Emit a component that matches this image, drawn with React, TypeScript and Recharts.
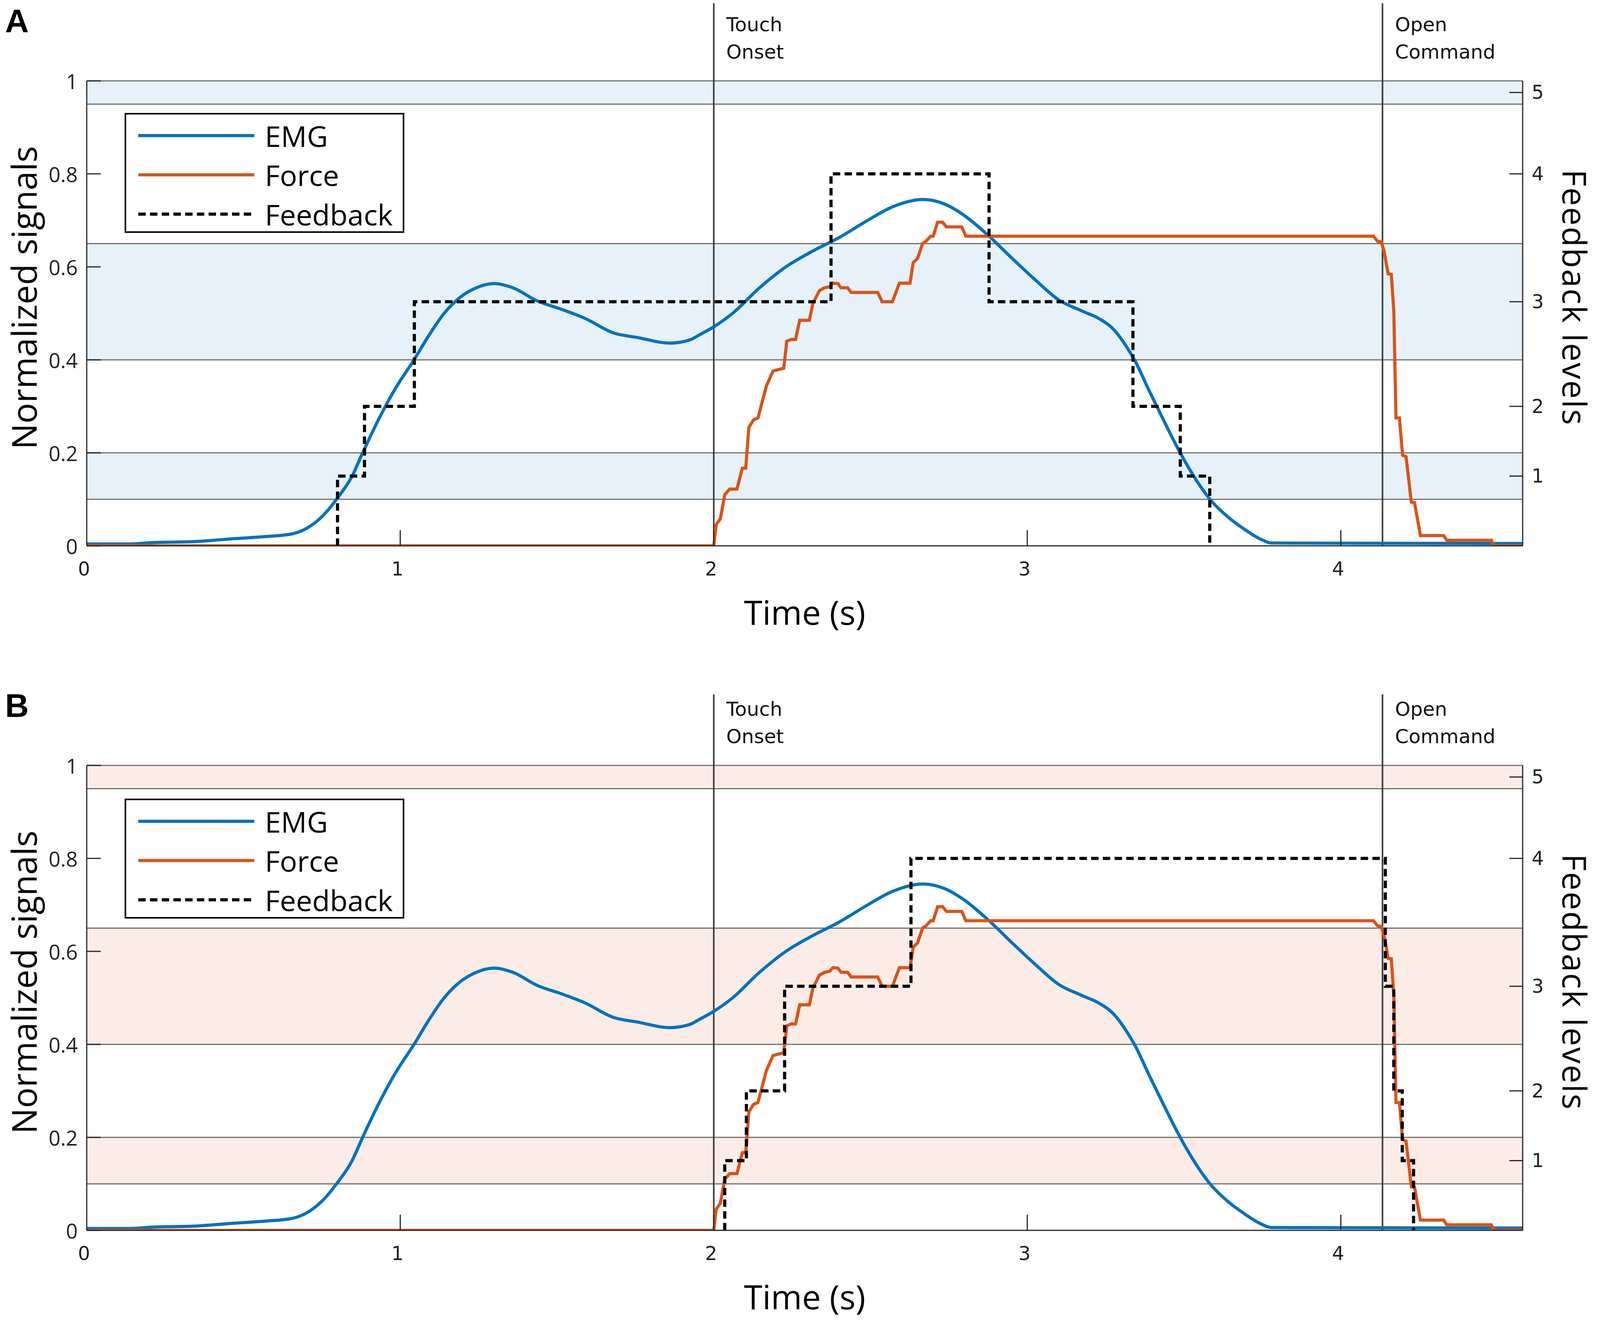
import React from 'react'
import { LineChart, Line, XAxis, YAxis, ReferenceArea, ReferenceLine } from 'recharts'

// EMG trace (normalized), same recording in both panels
const emgTime = [
  0, 0.14, 0.21, 0.34, 0.46, 0.57, 0.65, 0.7, 0.755, 0.8, 0.845, 0.88, 0.934, 0.986, 1.044, 1.089,
  1.14, 1.19, 1.243, 1.3, 1.359, 1.436, 1.513, 1.59, 1.68, 1.757, 1.86, 1.924, 1.955, 2.0, 2.06,
  2.146, 2.23, 2.316, 2.4, 2.486, 2.57, 2.666, 2.74, 2.8, 2.878, 2.952, 3.027, 3.1, 3.175, 3.228,
  3.27, 3.313, 3.345, 3.387, 3.44, 3.483, 3.55, 3.584, 3.635, 3.694, 3.745, 3.78, 4.58,
]
const emgValue = [
  0.004, 0.004, 0.007, 0.009, 0.015, 0.02, 0.025, 0.037, 0.066, 0.103, 0.148, 0.2, 0.276, 0.34, 0.4,
  0.45, 0.5, 0.534, 0.555, 0.564, 0.555, 0.527, 0.509, 0.489, 0.458, 0.448, 0.436, 0.443, 0.454,
  0.471, 0.5, 0.555, 0.6, 0.634, 0.663, 0.698, 0.729, 0.745, 0.734, 0.71, 0.666, 0.618, 0.571, 0.529,
  0.505, 0.489, 0.469, 0.432, 0.396, 0.336, 0.263, 0.206, 0.13, 0.099, 0.065, 0.035, 0.014,
  0.006, 0.005,
]

// grip force (normalized)
const forceTime = [
  0, 2.0, 2.008, 2.021, 2.035, 2.051, 2.074, 2.091, 2.102, 2.112, 2.127, 2.141, 2.168, 2.189, 2.223,
  2.233, 2.247, 2.261, 2.274, 2.305, 2.316, 2.337, 2.353, 2.369, 2.38, 2.396, 2.406, 2.427, 2.438,
  2.523, 2.537, 2.57, 2.592, 2.626, 2.636, 2.65, 2.666, 2.677, 2.692, 2.7, 2.714, 2.73, 2.742, 2.791,
  2.804, 4.104, 4.117, 4.129, 4.138, 4.151, 4.161, 4.169, 4.176, 4.187, 4.197, 4.208, 4.225, 4.235,
  4.254, 4.328, 4.338, 4.48, 4.489, 4.58,
]
const forceValue = [
  0, 0, 0.046, 0.058, 0.11, 0.122, 0.122, 0.167, 0.167, 0.255, 0.271, 0.275, 0.344, 0.376, 0.382,
  0.44, 0.444, 0.444, 0.485, 0.485, 0.521, 0.549, 0.555, 0.557, 0.565, 0.564, 0.555, 0.555, 0.545,
  0.545, 0.525, 0.525, 0.565, 0.565, 0.609, 0.618, 0.65, 0.655, 0.666, 0.666, 0.696, 0.696, 0.686,
  0.686, 0.666, 0.666, 0.655, 0.654, 0.634, 0.585, 0.584, 0.505, 0.275, 0.275, 0.195, 0.192, 0.094,
  0.093, 0.022, 0.022, 0.012, 0.012, 0, 0,
]

// feedback levels: where each level sits on the normalized scale (right axis)
const levelPos = [0, 0.15, 0.3, 0.525, 0.8, 0.975]

// feedback level changes (time, new level)
const fbTimesA = [0.8, 0.886, 1.045, 2.374, 2.878, 3.337, 3.488, 3.582]
const fbLevelsA = [1, 2, 3, 4, 3, 2, 1, 0]
const fbTimesB = [2.035, 2.104, 2.226, 2.629, 4.142, 4.169, 4.196, 4.232]
const fbLevelsB = [1, 2, 3, 4, 3, 2, 1, 0]

const bandRanges = [
  [0.1, 0.2],
  [0.4, 0.65],
  [0.95, 1],
]
const bandEdges = [0.1, 0.2, 0.4, 0.65, 0.95, 1]
const leftTicks = [0, 0.2, 0.4, 0.6, 0.8, 1]
const timeTicks = [0, 1, 2, 3, 4]
const timeMax = 4.58
const eventTimes = [2.0, 4.133]
const eventLabels = [
  ['Touch', 'Onset'],
  ['Open', 'Command'],
]

const emgData = emgTime.map((t, i) => ({ t, v: emgValue[i] }))
const forceData = forceTime.map((t, i) => ({ t, v: forceValue[i] }))
const feedbackData = (times: number[], levels: number[]) => [
  { t: times[0], v: 0 },
  ...times.map((t, i) => ({ t, v: levelPos[levels[i]] })),
]

// the page is 4096 wide, the figure was laid out for 4317
const KX = 4096 / 4317
const sx = (v: number) => Math.round(v * KX)

const W = 4096
const H = 3381
const LEFT_W = sx(234)
const RIGHT_W = sx(209)
const AXIS = '#262626'
const GRID = '#707070'
const EMG = '#0072BD'
const FORCE = '#D95319'
const SANS = "'Open Sans', 'DejaVu Sans', sans-serif"
const DEJAVU = "'DejaVu Sans', sans-serif"
const DASH = '19 11'

const fmtLeft = (v: number) => (v === 0 ? '0' : v === 1 ? '1' : v.toFixed(1))

const LeftTick = (props: any) => {
  const { x, y, payload } = props
  return (
    <g>
      <line x1={x} x2={x + 36} y1={y} y2={y} stroke={AXIS} strokeWidth={3} />
      <text x={x - 23} y={y} textAnchor="end" dominantBaseline="central" fontFamily={SANS} fontSize={53} fill="#222">
        {fmtLeft(payload.value)}
      </text>
    </g>
  )
}

const RightTick = (props: any) => {
  const { x, y, payload } = props
  return (
    <g>
      <line x1={x - 34} x2={x} y1={y} y2={y} stroke={AXIS} strokeWidth={3} />
      <text x={x + 23} y={y} textAnchor="start" dominantBaseline="central" fontFamily={DEJAVU} fontSize={49} fill="#222">
        {levelPos.indexOf(payload.value)}
      </text>
    </g>
  )
}

const BottomTick = (props: any) => {
  const { x, y, payload } = props
  return (
    <g>
      {payload.value > 0 && <line x1={x} x2={x} y1={y} y2={y - 40} stroke={AXIS} strokeWidth={3} />}
      <text x={x - 7} y={y + 76} textAnchor="middle" fontFamily={DEJAVU} fontSize={49} fill="#222">
        {payload.value}
      </text>
    </g>
  )
}

const legendItems = [
  { name: 'EMG', color: EMG, dash: undefined },
  { name: 'Force', color: FORCE, dash: undefined },
  { name: 'Feedback', color: '#000', dash: DASH },
]

function LegendBox({ top }: { top: number }) {
  const w = sx(756)
  return (
    <svg style={{ position: 'absolute', left: sx(336), top }} width={w} height={308}>
      <rect x={2} y={2} width={w - 5} height={303} fill="#fff" stroke="#000" strokeWidth={4} />
      {legendItems.map((it, i) => (
        <g key={it.name}>
          <line x1={sx(37)} x2={sx(350)} y1={58 + i * 100.5} y2={58 + i * 100.5} stroke={it.color} strokeWidth={8} strokeDasharray={it.dash} />
          <text x={sx(378)} y={58 + i * 100.5} dominantBaseline="central" fontFamily={SANS} fontSize={74} fill="#000">
            {it.name}
          </text>
        </g>
      ))}
    </svg>
  )
}

type PanelProps = {
  letter: string
  top: number
  height: number
  marginTop: number
  bandColor: string
  feedback: { t: number; v: number }[]
  lineTop: number
  textBase: number
}

function Panel({ letter, top, height, marginTop, bandColor, feedback, lineTop, textBase }: PanelProps) {
  const plotH = 1190
  const plotMid = marginTop + plotH / 2 - 40
  const leftLabelX = 94
  const rightLabelX = 4000
  return (
    <div style={{ position: 'absolute', left: 0, top }}>
      <LineChart width={W} height={height} margin={{ top: marginTop, right: 0, bottom: 0, left: 0 }}>
        <XAxis
          type="number"
          dataKey="t"
          domain={[0, timeMax]}
          ticks={timeTicks}
          interval={0}
          allowDataOverflow
          height={height - marginTop - plotH}
          tickSize={0}
          tickMargin={0}
          tickLine={false}
          tick={<BottomTick />}
          axisLine={{ stroke: AXIS, strokeWidth: 3 }}
          label={(p: any) => (
            <text x={p.viewBox.x + p.viewBox.width / 2} y={p.viewBox.y + 202} textAnchor="middle" fontFamily={SANS} fontSize={86} fill="#000">
              Time (s)
            </text>
          )}
        />
        <YAxis
          yAxisId="left"
          type="number"
          domain={[0, 1]}
          ticks={leftTicks}
          interval={0}
          allowDataOverflow
          width={LEFT_W}
          tickSize={0}
          tickMargin={0}
          tickLine={false}
          tick={<LeftTick />}
          axisLine={{ stroke: AXIS, strokeWidth: 3 }}
          label={() => (
            <g>
              <text x={13} y={marginTop - 124} fontFamily="'Liberation Sans Narrow', 'Liberation Sans', sans-serif" fontWeight="bold" fontSize={84} fill="#000">
                {letter}
              </text>
              <text
                x={leftLabelX}
                y={plotMid}
                transform={`rotate(-90 ${leftLabelX} ${plotMid})`}
                textAnchor="middle"
                fontFamily={SANS}
                fontSize={88}
                fill="#000"
              >
                Normalized signals
              </text>
            </g>
          )}
        />
        <YAxis
          yAxisId="right"
          orientation="right"
          type="number"
          domain={[0, 1]}
          ticks={levelPos.slice(1)}
          interval={0}
          allowDataOverflow
          width={RIGHT_W}
          tickSize={0}
          tickMargin={0}
          tickLine={false}
          tick={<RightTick />}
          axisLine={{ stroke: AXIS, strokeWidth: 3 }}
          label={() => (
            <text
              x={rightLabelX}
              y={plotMid}
              transform={`rotate(90 ${rightLabelX} ${plotMid})`}
              textAnchor="middle"
              fontFamily={SANS}
              fontSize={84}
              letterSpacing={3}
              fill="#000"
            >
              Feedback levels
            </text>
          )}
        />
        {bandRanges.map(([a, b]) => (
          <ReferenceArea key={a} yAxisId="left" y1={a} y2={b} fill={bandColor} fillOpacity={1} stroke="none" />
        ))}
        {bandEdges.map((y) => (
          <ReferenceLine key={y} yAxisId="left" y={y} stroke={GRID} strokeWidth={3} />
        ))}
        {eventTimes.map((t, i) => (
          <ReferenceLine
            key={t}
            yAxisId="left"
            segment={[
              { x: t, y: 0 },
              { x: t, y: lineTop },
            ]}
            ifOverflow="visible"
            stroke="#3a3a3a"
            strokeWidth={4}
            label={(p: any) => (
              <g>
                {eventLabels[i].map((s, k) => (
                  <text key={s} x={p.viewBox.x + 32} y={textBase + k * 70} fontFamily={DEJAVU} fontSize={50} fill="#111">
                    {s}
                  </text>
                ))}
              </g>
            )}
          />
        ))}
        <Line data={emgData} yAxisId="left" dataKey="v" type="monotone" stroke={EMG} strokeWidth={8} dot={false} isAnimationActive={false} />
        <Line data={forceData} yAxisId="left" dataKey="v" type="linear" stroke={FORCE} strokeWidth={8} dot={false} isAnimationActive={false} />
        <Line
          data={feedback}
          yAxisId="left"
          dataKey="v"
          type="stepAfter"
          stroke="#000"
          strokeWidth={8}
          strokeDasharray={DASH}
          dot={false}
          isAnimationActive={false}
        />
      </LineChart>
    </div>
  )
}

export default function App() {
  return (
    <div style={{ position: 'absolute', left: 0, top: 0, width: W, height: H, background: '#fff', overflow: 'hidden' }}>
      <Panel
        letter="A"
        top={0}
        height={1690}
        marginTop={207}
        bandColor="#E6F1F9"
        feedback={feedbackData(fbTimesA, fbLevelsA)}
        lineTop={1.167}
        textBase={80}
      />
      <Panel
        letter="B"
        top={1690}
        height={1691}
        marginTop={269}
        bandColor="#FBECE7"
        feedback={feedbackData(fbTimesB, fbLevelsB)}
        lineTop={1.153}
        textBase={142}
      />
      <LegendBox top={289} />
      <LegendBox top={2044} />
    </div>
  )
}
